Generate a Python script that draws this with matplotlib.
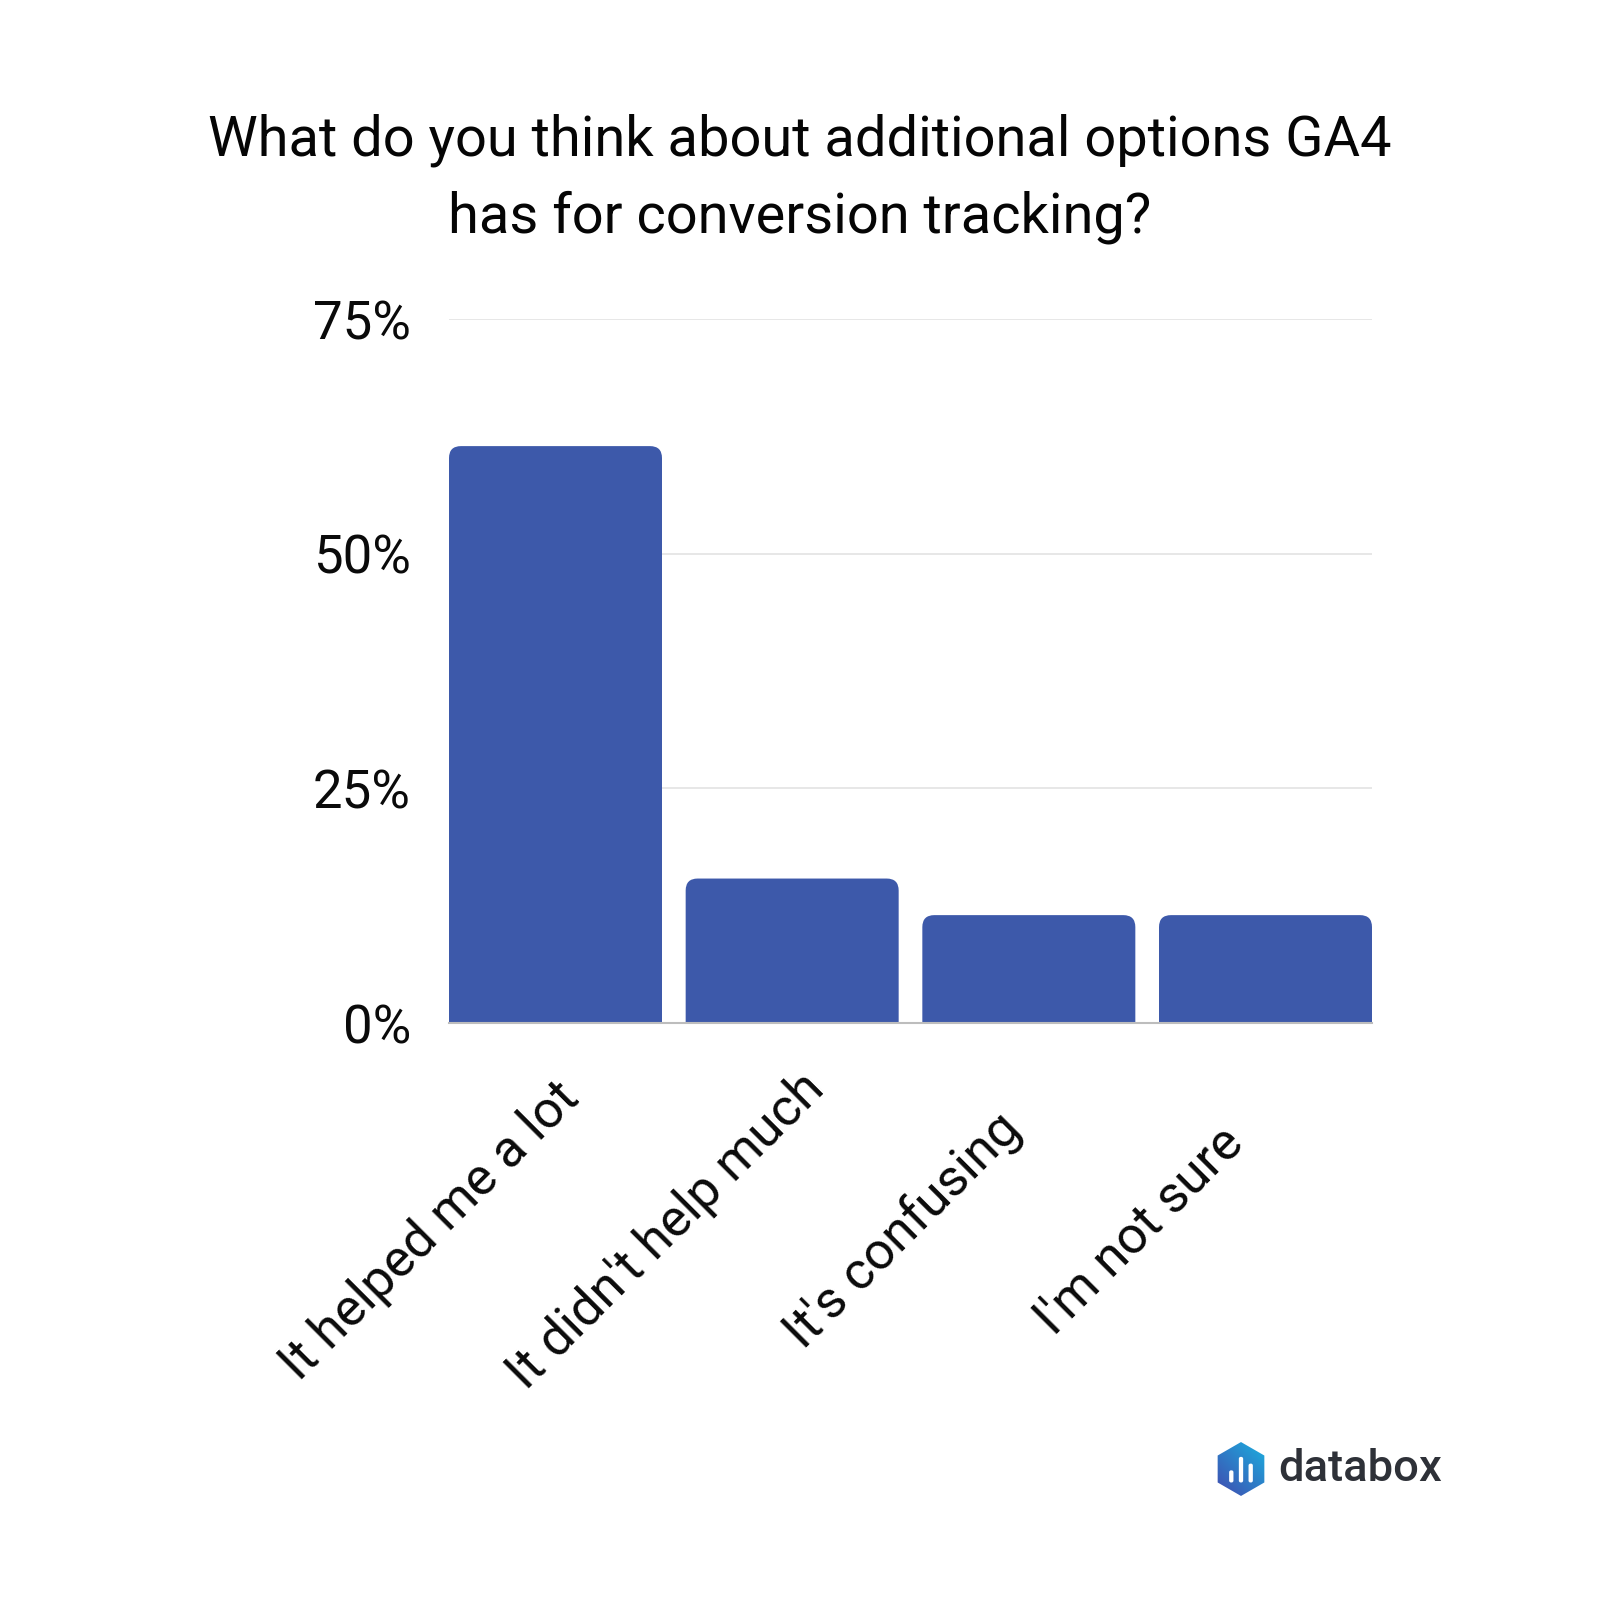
import numpy as np
import matplotlib
matplotlib.use("Agg")
import matplotlib.pyplot as plt
from matplotlib.path import Path
from matplotlib.patches import PathPatch, Polygon, FancyBboxPatch
from matplotlib.transforms import ScaledTranslation

categories = ["It helped me a lot", "It didn't help much", "It's confusing", "I'm not sure"]
values = [61.5, 15.4, 11.5, 11.5]
yticks = [0, 25, 50, 75]
ytick_labels = ["0%", "25%", "50%", "75%"]
title = "What do you think about additional options GA4\nhas for conversion tracking?"

plt.rcParams['font.family'] = ['Roboto', 'DejaVu Sans']

BAR_COLOR = "#3d59aa"
W, H = 1600, 1600
fig = plt.figure(figsize=(16, 16), dpi=100)
fig.patch.set_facecolor("white")

ax = fig.add_axes([449 / W, 1 - 1023 / H, 923 / W, 704 / H])
ax.set_xlim(-0.45, len(categories) - 0.55)
ax.set_ylim(0, 75.05)

bars = ax.bar(range(len(categories)), values, width=0.9, color=BAR_COLOR)

# replace rectangles with rounded-top versions
fig.canvas.draw()
tr = ax.transData
px_x = (tr.transform((1, 0))[0] - tr.transform((0, 0))[0])
px_y = (tr.transform((0, 1))[1] - tr.transform((0, 0))[1])
r = 12
rx, ry = r / px_x, r / px_y
for b in bars:
    x0, y0 = b.get_x(), b.get_y()
    x1, y1 = x0 + b.get_width(), y0 + b.get_height()
    verts = [(x0, y0), (x0, y1 - ry), (x0, y1), (x0 + rx, y1),
             (x1 - rx, y1), (x1, y1), (x1, y1 - ry), (x1, y0), (x0, y0)]
    codes = [Path.MOVETO, Path.LINETO, Path.CURVE3, Path.CURVE3,
             Path.LINETO, Path.CURVE3, Path.CURVE3, Path.LINETO, Path.CLOSEPOLY]
    b.set_visible(False)
    ax.add_patch(PathPatch(Path(verts, codes), facecolor=BAR_COLOR, edgecolor="none", zorder=2))

ax.set_yticks(yticks)
ax.set_yticklabels(ytick_labels)
ax.yaxis.grid(True, color="#e3e3e3", linewidth=1.2, zorder=0)
ax.set_axisbelow(True)
for s in ["left", "right", "top"]:
    ax.spines[s].set_visible(False)
ax.spines["bottom"].set_color("#bdbdbd")
ax.spines["bottom"].set_linewidth(1.5)
ax.spines["bottom"].set_zorder(3)
ax.tick_params(axis="y", length=0, pad=27.5, labelsize=38, labelcolor="#0a0a0a")
ax.set_xticks(range(len(categories)))
ax.set_xticklabels([])
ax.tick_params(axis="x", length=0)

lab_tr = ax.get_xaxis_transform() + ScaledTranslation(-1.255, -2.08, fig.dpi_scale_trans)
for i, c in enumerate(categories):
    ax.text(i, 0, c, transform=lab_tr, rotation=45, rotation_mode="anchor",
            ha="center", va="center", fontsize=37.5, color="#0a0a0a", clip_on=False)

fig.text(0.5, 1 - 232 / H, title, ha="center", va="baseline", fontsize=40.3,
         color="#050505", linespacing=1.55, multialignment="center")

# logo
lax = fig.add_axes([1210 / W, 1 - 1500 / H, 62 / W, 62 / H])
lax.set_xlim(-1.15, 1.15)
lax.set_ylim(-1.15, 1.15)
lax.set_aspect("equal")
lax.axis("off")
ang = np.deg2rad(np.arange(90, 450, 60))
hexv = np.c_[np.cos(ang), np.sin(ang)]
hexpatch = Polygon(hexv, closed=True, facecolor="none", edgecolor="none",
                   joinstyle="round")
lax.add_patch(hexpatch)
gx, gy = np.meshgrid(np.linspace(0, 1, 100), np.linspace(0, 1, 100))
t = np.clip((gx + (1 - gy)) / 2, 0, 1)
c1 = np.array([0.26, 0.28, 0.68])
c2 = np.array([0.10, 0.70, 0.88])
img = c1[None, None, :] * (1 - t[..., None]) + c2[None, None, :] * t[..., None]
im = lax.imshow(img, extent=(-1, 1, -1, 1), origin="upper")
im.set_clip_path(hexpatch)
for bx, btop in [(-0.36, -0.05), (0.0, 0.45), (0.36, 0.2)]:
    lax.add_patch(FancyBboxPatch((bx - 0.08, -0.5), 0.16, btop + 0.5,
                                 boxstyle="round,pad=0,rounding_size=0.07",
                                 facecolor="white", edgecolor="none"))
fig.text(1278 / W, 1 - 1481 / H, "databox", fontsize=32.7, fontweight="medium",
         color="#2e3138", ha="left", va="baseline")

fig.savefig("out.png", dpi=100, facecolor="white")
